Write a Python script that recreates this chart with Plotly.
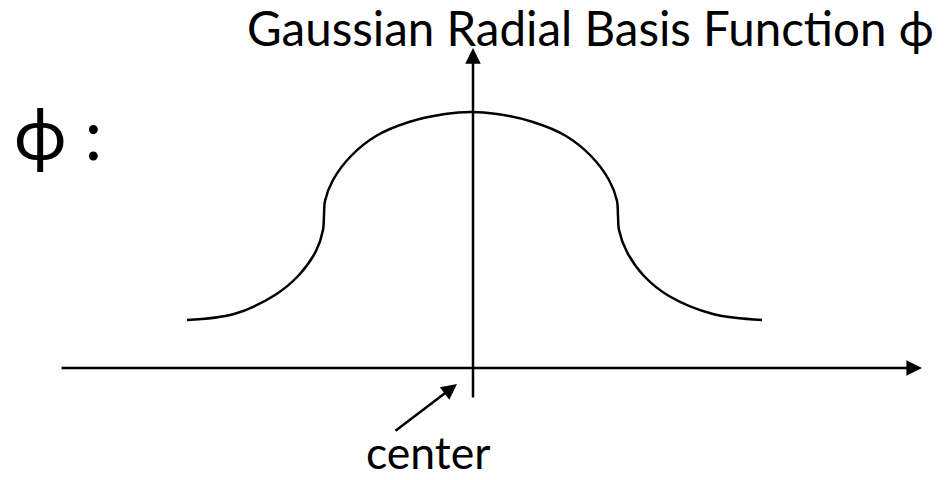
import plotly.graph_objects as go

# Curve points (x: offset from center, y: height above the horizontal axis)
curve_x = [-2.86, -2.39, -1.98, -1.74, -1.57, -1.50, -1.49,
           -1.48, -1.40, -1.22, -0.97, -0.64, -0.28, -0.02,
           0.24, 0.60, 0.93, 1.18, 1.36, 1.44, 1.45,
           1.46, 1.54, 1.71, 1.96, 2.40, 2.89]
curve_y = [0.48, 0.54, 0.73, 0.93, 1.17, 1.38, 1.53,
           1.67, 1.88, 2.12, 2.32, 2.46, 2.54, 2.56,
           2.54, 2.46, 2.32, 2.12, 1.88, 1.67, 1.52,
           1.38, 1.16, 0.92, 0.72, 0.54, 0.48]

# Axis arrows (tail -> tip)
h_axis = dict(tail=(-4.13, 0.0), tip=(4.49, 0.0))
v_axis = dict(tail=(0.0, -0.31), tip=(0.0, 3.20))
center_arrow = dict(tail=(-0.79, -0.64), tip=(-0.16, -0.16))

title_text = "Gaussian Radial Basis Function \u03d5"
phi_label = "\u03d5 :"
center_label = "center"

FONT = "Lato, 'Open Sans', sans-serif"

fig = go.Figure()
fig.add_trace(go.Scatter(
    x=curve_x, y=curve_y, mode="lines",
    line=dict(color="black", width=2.5, shape="spline", smoothing=1.0),
    hoverinfo="skip", showlegend=False,
))

def arrow(d, width=2.5, size=1.25):
    fig.add_annotation(
        x=d["tip"][0], y=d["tip"][1], ax=d["tail"][0], ay=d["tail"][1],
        xref="x", yref="y", axref="x", ayref="y",
        showarrow=True, arrowhead=2, arrowsize=size, arrowwidth=width,
        arrowcolor="black", standoff=0, text="",
    )

arrow(h_axis)
arrow(v_axis)
arrow(center_arrow, width=2.5, size=1.25)

fig.add_annotation(
    text=title_text, xref="paper", yref="paper",
    x=245 / 951, y=1 - 27 / 480, xanchor="left", yanchor="middle",
    showarrow=False, font=dict(family=FONT, size=47.5, color="black"),
)
fig.add_annotation(
    text=phi_label, xref="paper", yref="paper",
    x=12 / 951, y=1 - 132 / 480, xanchor="left", yanchor="middle",
    showarrow=False, font=dict(family=FONT, size=71, color="black"),
)
fig.add_annotation(
    text=center_label, xref="paper", yref="paper",
    x=428 / 951, y=0, xanchor="center", yanchor="bottom",
    showarrow=False, font=dict(family=FONT, size=44.5, color="black"),
)

fig.update_layout(
    width=951, height=480,
    margin=dict(l=0, r=0, t=0, b=0),
    paper_bgcolor="white", plot_bgcolor="white",
    xaxis=dict(range=[-4.73, 4.78], visible=False, fixedrange=True),
    yaxis=dict(range=[-1.12, 3.68], visible=False, fixedrange=True),
    showlegend=False,
)

fig.write_html(
    "out.html",
    config={"displayModeBar": False},
    post_script="document.body.style.margin='0';document.body.style.overflow='hidden';",
)
